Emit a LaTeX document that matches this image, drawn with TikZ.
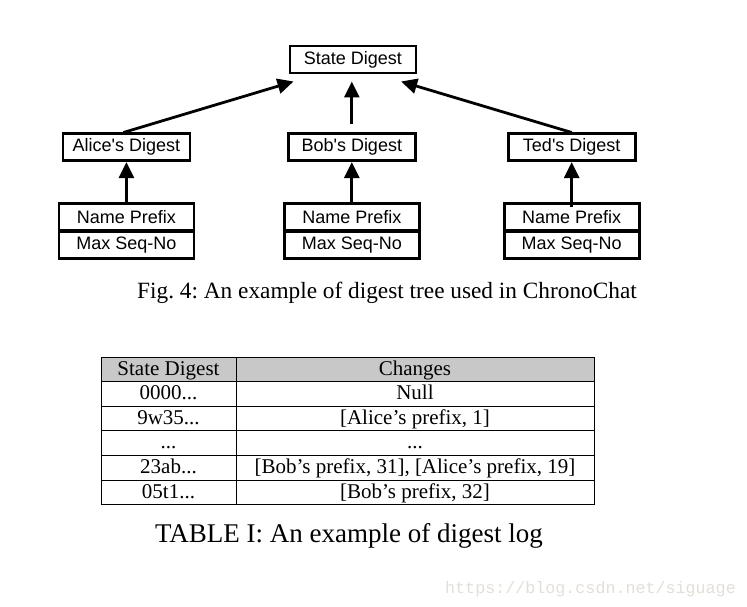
\documentclass[tikz,border=0pt]{standalone}
\usepackage{fontspec}
\setmainfont{Liberation Serif}
\newfontfamily\helv{Liberation Sans}
\newfontfamily\wmfont{Liberation Mono}
\usetikzlibrary{arrows.meta}
\definecolor{hdrgray}{RGB}{200,200,200}
\definecolor{wmgray}{RGB}{226,223,216}
\newcommand\tdots{...}
\frenchspacing
\begin{document}
\begin{tikzpicture}[x=1pt,y=-1pt,
  box/.style={draw,line width=2.6pt,font=\helv\fontsize{18}{20}\selectfont,inner sep=0pt,minimum height=27pt},
  arr/.style={line width=2.8pt,-{Triangle[length=16pt,width=15pt]}},
  cell/.style={font=\fontsize{21}{23}\selectfont,anchor=base,inner sep=0pt}]
\useasboundingbox (0,0) rectangle (747,607);
\node[box,minimum width=126pt] (root) at (352.8,59.7) {State Digest};
\foreach \i/\x/\nm in {a/126.4/Alice,b/351.8/Bob,t/571.7/Ted}{
  \node[box,minimum width=127pt] (d\i) at (\x,147.3) {\nm's Digest};
  \node[box,minimum width=135pt] (p\i) at (\x,217.1) {Name Prefix};
  \node[box,minimum width=135pt] (m\i) at (\x,244.8) {Max Seq-No};
}
\draw[arr] ([xshift=-3pt]da.north) -- ([shift={(5pt,-7pt)}]root.south west);
\draw[arr,shorten <=8pt,shorten >=7pt] (db.north) -- (db.north |- root.south);
\draw[arr] (dt.north) -- ([shift={(-16pt,-7pt)}]root.south east);
\foreach \i in {a,b}
  \draw[arr] (p\i.north) -- (d\i.south);
\draw[arr] ([yshift=-5pt]pt.north) -- (dt.south);
\node[font=\fontsize{23.3}{28}\selectfont,anchor=base] (figcap) at (387,298) {Fig. 4: An example of digest tree used in ChronoChat};
\fill[hdrgray] (101,357) rectangle (594,381.6);
\foreach \y in {381.6,406.2,430.8,455.4,480}
  \draw[line width=0.8pt] (101,\y) -- (594,\y);
\draw[line width=0.8pt] (101,357) rectangle (594,504.6) (236,357) -- (236,504.6);
\foreach \r/\d/\c in {0/State Digest/Changes,1/0000\tdots/Null,2/9w35\tdots/{[Alice's prefix, 1]},3/\tdots/\tdots,4/23ab\tdots/{[Bob's prefix, 31], [Alice's prefix, 19]},5/05t1\tdots/{[Bob's prefix, 32]}}{
  \node[cell] (l\r) at (168.5,357+24.6*\r+18) {\d};
  \node[cell] (c\r) at (415,357+24.6*\r+18) {\c};
}
\node[font=\fontsize{27}{31}\selectfont,anchor=base] (tabcap) at (349,542) {TABLE I: An example of digest log};
\node[font=\wmfont\fontsize{16.7}{18}\selectfont,text=wmgray,anchor=base west,inner sep=0pt] (wm) at (445,593) {https://blog.csdn.net/siguage};
\end{tikzpicture}
\end{document}
